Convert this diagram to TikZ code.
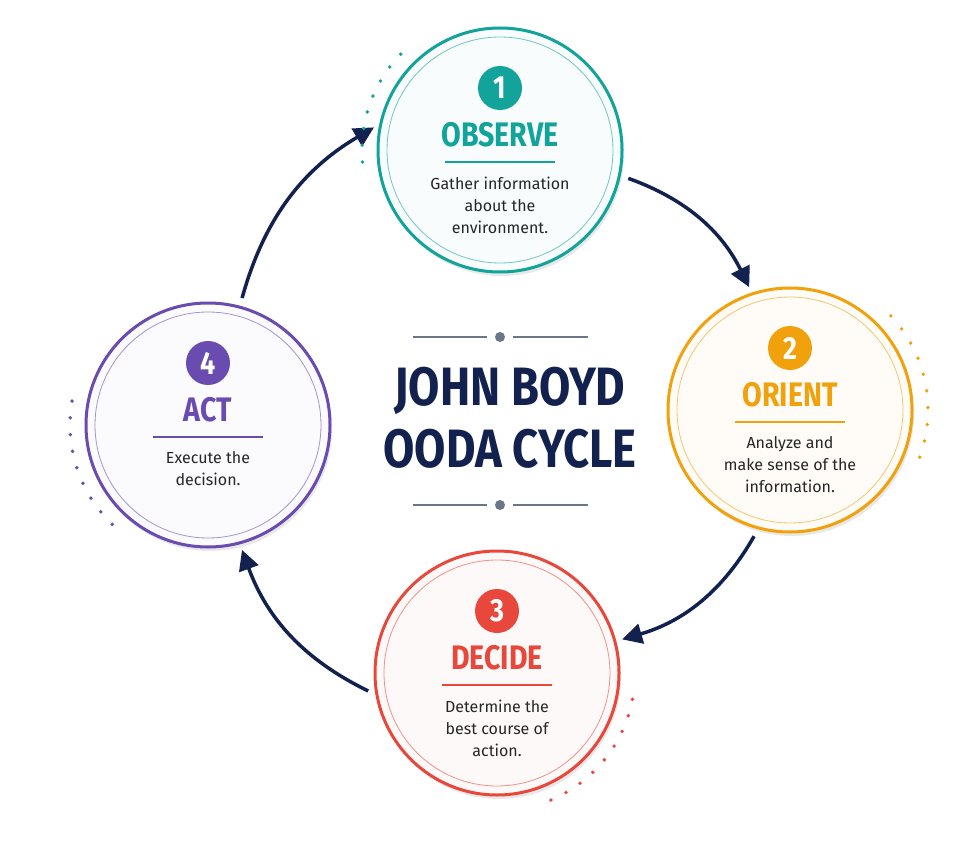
\documentclass[tikz,border=0pt]{standalone}
\usepackage{fontspec}
\setmainfont{Fira Sans}
\newfontfamily\headfont[FakeStretch=0.8]{Fira Sans SemiBold}
\newfontfamily\titlefont[FakeStretch=0.84]{Fira Sans Bold}
\usetikzlibrary{arrows.meta,shadows,calc}
\definecolor{obscol}{HTML}{12A39A}
\definecolor{oricol}{HTML}{F0A10C}
\definecolor{deccol}{HTML}{E8473B}
\definecolor{actcol}{HTML}{6A4BAF}
\definecolor{navy}{HTML}{12214D}
\definecolor{greyline}{HTML}{6B7689}
\tikzset{
  stage/.style={circle, draw=#1, line width=3pt, minimum size=244pt, fill=#1!3,
    drop shadow={opacity=0.18, shadow xshift=2pt, shadow yshift=-4pt}},
  ring/.style={circle, draw=#1!60, line width=0.8pt, minimum size=226pt},
  badge/.style={circle, fill=#1, text=white, minimum size=44pt, inner sep=0pt,
    font=\titlefont\fontsize{32}{32}\selectfont},
  stagename/.style={text=#1, font=\titlefont\fontsize{34}{34}\selectfont},
  stagetext/.style={align=center, text=black!85, font=\fontsize{16}{22}\selectfont},
  cyclearrow/.style={navy, line width=3.5pt, -{Triangle[length=20pt,width=20pt]}},
  deco/.style={circle, fill=#1, inner sep=0pt, minimum size=3.8pt},
}
% one stage: name, centre, colour, number, label, text
\newcommand\oodastage[6]{
  \node[stage=#3] (#1) at #2 {};
  \node[ring=#3] at #2 {};
  \node[badge=#3] (#1num) at ($#2+(0,-62)$) {#4};
  \node[stagename=#3] (#1name) at ($#2+(0,-15)$) {#5};
  \draw[#3, line width=1.2pt] ($#2+(-55,12)$) -- ($#2+(55,12)$);
  \node[stagetext, anchor=north] (#1text) at ($#2+(0,23)$) {#6};
}
\begin{document}
\begin{tikzpicture}[x=1pt,y=-1pt]
\useasboundingbox[fill=white] (0,0) rectangle (980,853);
\oodastage{obs}{(500,150)}{obscol}{1}{OBSERVE}{Gather information\\about the\\environment.}
\oodastage{ori}{(790,410)}{oricol}{2}{ORIENT}{Analyze and\\make sense of the\\information.}
\oodastage{dec}{(497,673)}{deccol}{3}{DECIDE}{Determine the\\best course of\\action.}
\oodastage{act}{(208,425)}{actcol}{4}{ACT}{Execute the\\decision.}
% arrows between stages
\draw[cyclearrow, shorten <=8pt, shorten >=6pt] (obs.-12) to[bend left=22] (ori.108);
\draw[cyclearrow, shorten <=8pt, shorten >=6pt] (ori.-105) to[bend left=22] (dec.15);
\draw[cyclearrow, shorten <=8pt, shorten >=6pt] (dec.190) to[bend left=22] (act.-75);
\draw[cyclearrow, shorten <=8pt, shorten >=6pt] (act.75) to[bend left=22] (obs.168);
% dotted decorations
\foreach \a in {-136,-143,...,-186} \node[deco=obscol] at ($(obs)+(\a:138)$) {};
\foreach \a in {-43,-36,...,24} \node[deco=oricol] at ($(ori)+(\a:138)$) {};
\foreach \a in {11,18,...,72} \node[deco=deccol] at ($(dec)+(\a:138)$) {};
\foreach \a in {134,141,...,192} \node[deco=actcol] at ($(act)+(\a:138)$) {};
% title
\node[navy, align=center, font=\titlefont\fontsize{54}{62}\selectfont] (title) at (510,418) {JOHN BOYD\\OODA CYCLE};
\foreach \y in {337,505} {
  \draw[greyline, line width=2.5pt] (413,\y) -- (487,\y);
  \draw[greyline, line width=2.5pt] (513,\y) -- (588,\y);
  \fill[greyline] (500,\y) circle (5pt);
}
\end{tikzpicture}
\end{document}
